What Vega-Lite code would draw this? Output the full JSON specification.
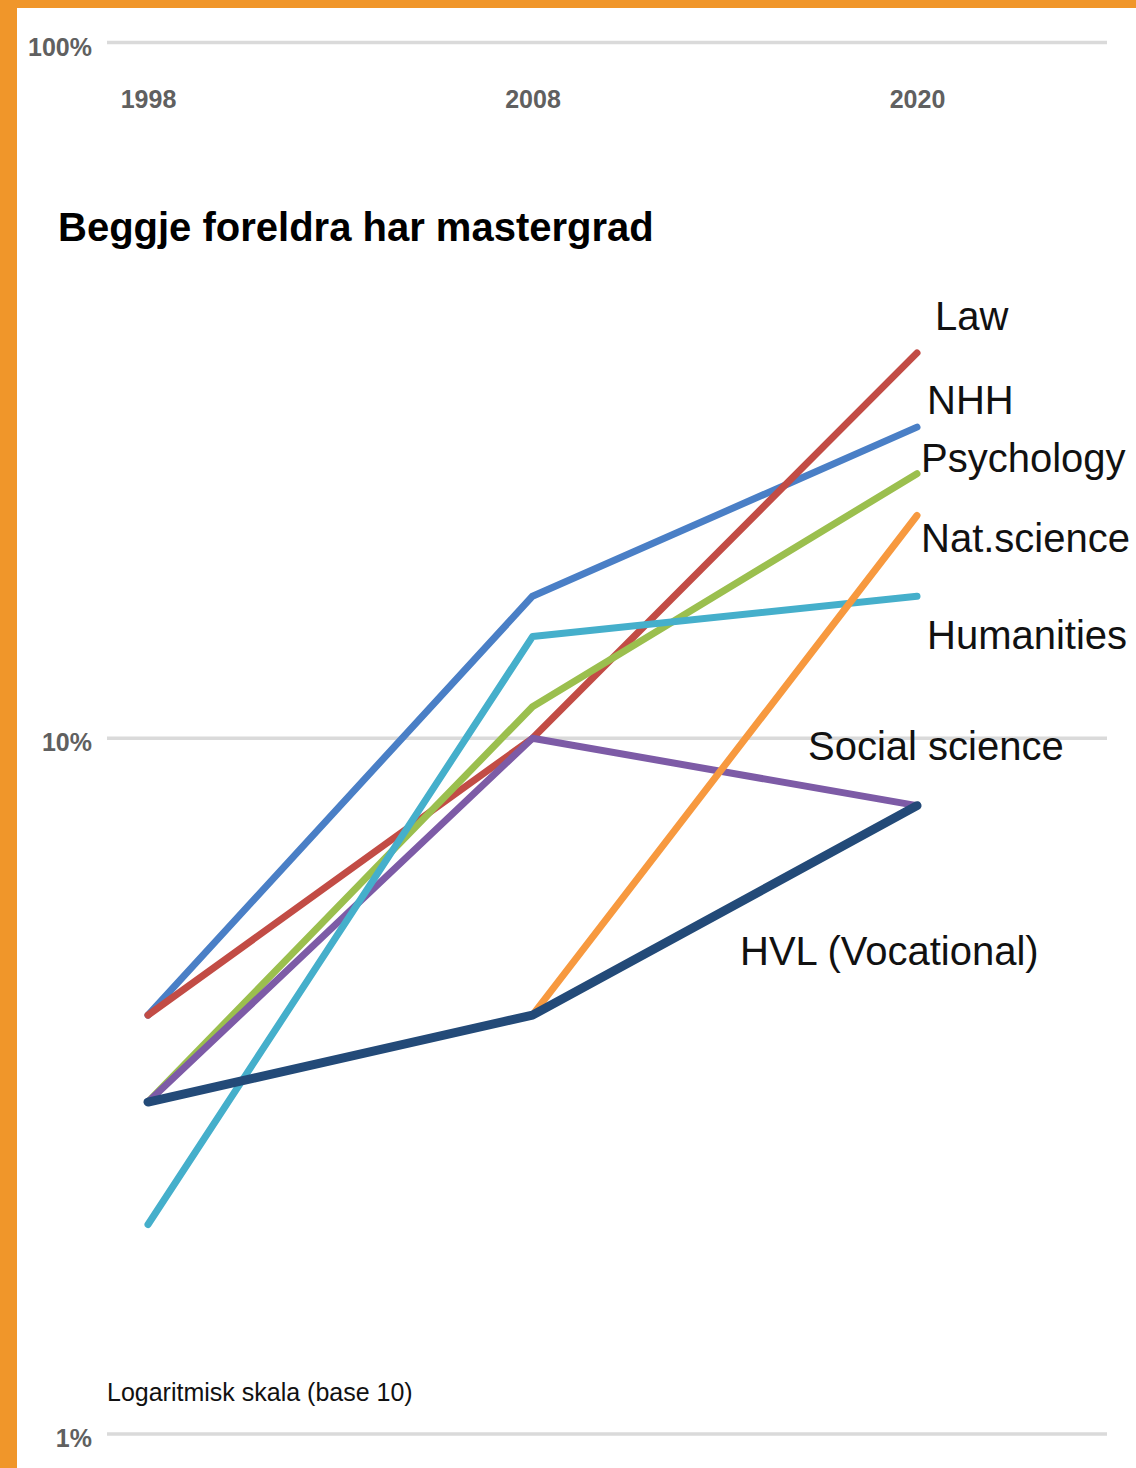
{
  "$schema": "https://vega.github.io/schema/vega-lite/v6.json",
  "width": 1119,
  "height": 1460,
  "autosize": "none",
  "padding": {"left": 17, "top": 8, "right": 0, "bottom": 0},
  "background": "#f0962a",
  "config": {
    "view": {"fill": "white", "stroke": null},
    "font": "Liberation Sans, Arial, sans-serif"
  },
  "title": {
    "text": "Beggje foreldra har mastergrad",
    "anchor": "start",
    "frame": "group",
    "orient": "top",
    "offset": -241,
    "dx": 41,
    "fontSize": 40,
    "fontWeight": "bold",
    "color": "#000000",
    "font": "Liberation Sans, Arial, sans-serif"
  },
  "datasets": {
    "series": [
      {"series": "NHH", "year": "1998", "pct": 4.0},
      {"series": "NHH", "year": "2008", "pct": 16.0},
      {"series": "NHH", "year": "2020", "pct": 28.0},
      {"series": "Law", "year": "1998", "pct": 4.0},
      {"series": "Law", "year": "2008", "pct": 10.0},
      {"series": "Law", "year": "2020", "pct": 35.8},
      {"series": "Psychology", "year": "1998", "pct": 3.0},
      {"series": "Psychology", "year": "2008", "pct": 11.1},
      {"series": "Psychology", "year": "2020", "pct": 24.0},
      {"series": "Social science", "year": "1998", "pct": 3.0},
      {"series": "Social science", "year": "2008", "pct": 10.0},
      {"series": "Social science", "year": "2020", "pct": 8.0},
      {"series": "Humanities", "year": "1998", "pct": 2.0},
      {"series": "Humanities", "year": "2008", "pct": 14.0},
      {"series": "Humanities", "year": "2020", "pct": 16.0},
      {"series": "Nat.science", "year": "2008", "pct": 4.0},
      {"series": "Nat.science", "year": "2020", "pct": 20.9},
      {"series": "HVL (Vocational)", "year": "1998", "pct": 3.0},
      {"series": "HVL (Vocational)", "year": "2008", "pct": 4.0},
      {"series": "HVL (Vocational)", "year": "2020", "pct": 8.0}
    ],
    "labels": [
      {"series": "Law", "label": "Law", "lpct": 40.2},
      {"series": "NHH", "label": "NHH", "lpct": 30.4},
      {"series": "Psychology", "label": "Psychology", "lpct": 25.1},
      {"series": "Nat.science", "label": "Nat.science", "lpct": 19.3},
      {"series": "Humanities", "label": "Humanities", "lpct": 14.0},
      {"series": "Social science", "label": "Social science", "lpct": 9.68},
      {"series": "HVL (Vocational)", "label": "HVL (Vocational)", "lpct": 4.91}
    ],
    "grid": [{"g": 1, "glabel": "1%"}, {"g": 10, "glabel": "10%"}, {"g": 100, "glabel": "100%"}],
    "note": [{"note": "Logaritmisk skala (base 10)", "year": "1998", "npct": 1.145}]
  },
  "resolve": {"scale": {"x": "independent"}},
  "layer": [
    {
      "data": {"name": "grid"},
      "layer": [
        {
          "mark": {"type": "rule", "color": "#dadada", "strokeWidth": 3.5},
          "encoding": {
            "y": {
              "field": "g", "type": "quantitative",
              "scale": {"type": "log", "domain": [0.8935, 112.1], "nice": false, "zero": false},
              "axis": null
            },
            "x": {"datum": 0, "type": "quantitative", "scale": {"domain": [-0.09, 1.029], "nice": false, "zero": false}, "axis": null},
            "x2": {"datum": 1}
          }
        },
        {
          "mark": {"type": "text", "align": "right", "baseline": "middle", "dx": -15, "dy": 5, "fontSize": 25, "fontWeight": "bold", "color": "#606060"},
          "encoding": {
            "y": {"field": "g", "type": "quantitative", "axis": null},
            "x": {"datum": 0, "type": "quantitative", "axis": null},
            "text": {"field": "glabel"}
          }
        }
      ]
    },
    {
      "layer": [
        {
          "data": {"name": "series"},
          "transform": [{"filter": "datum.series !== 'HVL (Vocational)'"}],
          "mark": {"type": "line", "strokeWidth": 7, "strokeCap": "round", "strokeJoin": "round"},
          "encoding": {
            "x": {
              "field": "year", "type": "ordinal",
              "scale": {"type": "point", "domain": ["1998", "2008", "2020"], "range": [131, 900], "padding": 0},
              "axis": {
                "orient": "top",
                "title": null,
                "domain": false,
                "ticks": false,
                "tickSize": 0,
                "grid": false,
                "labelAngle": 0,
                "labelPadding": -104,
                "labelFontSize": 25,
                "labelFontWeight": "bold",
                "labelColor": "#606060",
                "labelFont": "Liberation Sans, Arial, sans-serif"
              }
            },
            "y": {"field": "pct", "type": "quantitative", "axis": null},
            "color": {
              "field": "series", "type": "nominal",
              "scale": {
                "domain": ["NHH", "Law", "Psychology", "Social science", "Humanities", "Nat.science", "HVL (Vocational)"],
                "range": ["#4a7fc6", "#c24c45", "#9bbf4e", "#7d5ba6", "#45afcb", "#f7993f", "#234a78"]
              },
              "legend": null
            }
          }
        },
        {
          "data": {"name": "series"},
          "transform": [{"filter": "datum.series === 'HVL (Vocational)'"}],
          "mark": {"type": "line", "strokeWidth": 9, "strokeCap": "round", "strokeJoin": "round"},
          "encoding": {
            "x": {"field": "year", "type": "ordinal"},
            "y": {"field": "pct", "type": "quantitative", "axis": null},
            "color": {"field": "series", "type": "nominal", "legend": null}
          }
        },
        {
          "data": {"name": "labels"},
          "transform": [{"filter": "datum.series === 'Law'"}],
          "mark": {"type": "text", "align": "left", "baseline": "middle", "dx": 18, "fontSize": 40, "color": "#111111"},
          "encoding": {
            "x": {"datum": "2020", "type": "ordinal"},
            "y": {"field": "lpct", "type": "quantitative", "axis": null},
            "text": {"field": "label"}
          }
        },
        {
          "data": {"name": "labels"},
          "transform": [{"filter": "datum.series === 'NHH' || datum.series === 'Humanities'"}],
          "mark": {"type": "text", "align": "left", "baseline": "middle", "dx": 10, "fontSize": 40, "color": "#111111"},
          "encoding": {
            "x": {"datum": "2020", "type": "ordinal"},
            "y": {"field": "lpct", "type": "quantitative", "axis": null},
            "text": {"field": "label"}
          }
        },
        {
          "data": {"name": "labels"},
          "transform": [{"filter": "datum.series === 'Psychology' || datum.series === 'Nat.science'"}],
          "mark": {"type": "text", "align": "left", "baseline": "middle", "dx": 4, "fontSize": 40, "color": "#111111"},
          "encoding": {
            "x": {"datum": "2020", "type": "ordinal"},
            "y": {"field": "lpct", "type": "quantitative", "axis": null},
            "text": {"field": "label"}
          }
        },
        {
          "data": {"name": "labels"},
          "transform": [{"filter": "datum.series === 'Social science'"}],
          "mark": {"type": "text", "align": "left", "baseline": "middle", "dx": -109, "fontSize": 40, "color": "#111111"},
          "encoding": {
            "x": {"datum": "2020", "type": "ordinal"},
            "y": {"field": "lpct", "type": "quantitative", "axis": null},
            "text": {"field": "label"}
          }
        },
        {
          "data": {"name": "labels"},
          "transform": [{"filter": "datum.series === 'HVL (Vocational)'"}],
          "mark": {"type": "text", "align": "left", "baseline": "middle", "dx": -177, "fontSize": 40, "color": "#111111"},
          "encoding": {
            "x": {"datum": "2020", "type": "ordinal"},
            "y": {"field": "lpct", "type": "quantitative", "axis": null},
            "text": {"field": "label"}
          }
        },
        {
          "data": {"name": "note"},
          "mark": {"type": "text", "align": "left", "baseline": "middle", "dx": -41, "fontSize": 25, "color": "#111111"},
          "encoding": {
            "x": {"field": "year", "type": "ordinal"},
            "y": {"field": "npct", "type": "quantitative", "axis": null},
            "text": {"field": "note"}
          }
        }
      ]
    }
  ]
}
